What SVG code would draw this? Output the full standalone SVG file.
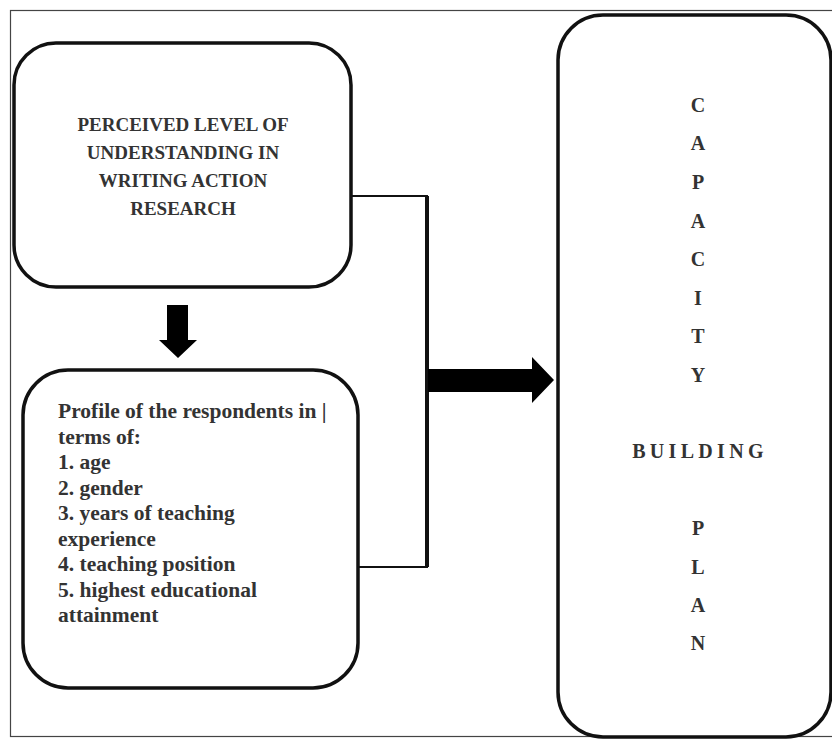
<svg xmlns="http://www.w3.org/2000/svg" width="832" height="739" viewBox="0 0 832 739">
<style>
.box{fill:#fff;stroke:#111;stroke-width:3.5}
.t{font-family:"Liberation Serif",serif;font-weight:bold;fill:#333}
.c{font-size:19px;text-anchor:middle}
.p{font-size:21.5px}
.v{font-size:20px;text-anchor:middle}
.ln{fill:none;stroke:#111}
</style>
<rect x="0" y="0" width="832" height="739" fill="#fff"/>
<rect x="10.5" y="10.5" width="830" height="726" fill="none" stroke="#444" stroke-width="1.2"/>
<g id="connectors">
<polyline class="ln" points="352,196 427,196 427,567 358,567" stroke-width="2"/>
<line class="ln" x1="427" y1="196" x2="427" y2="567" stroke-width="4"/>
<polygon points="167,305 188,305 188,340 197,340 178,358 159,340 167,340" fill="#000"/>
<polygon points="428,369 532,369 532,357 554,380 532,403 532,392 428,392" fill="#000"/>
</g>
<g id="node-perceived">
<rect class="box" x="14" y="43" width="337" height="244" rx="42"/>
<text class="t c" x="183"><tspan x="183" y="131">PERCEIVED LEVEL OF</tspan><tspan x="183" y="159">UNDERSTANDING IN</tspan><tspan x="183" y="187">WRITING ACTION</tspan><tspan x="183" y="215">RESEARCH</tspan></text>
</g>
<g id="node-profile">
<rect class="box" x="23" y="370" width="335" height="318" rx="45"/>
<text class="t p"><tspan x="58" y="418">Profile of the respondents in |</tspan><tspan x="58" y="443.5">terms of:</tspan><tspan x="58" y="469">1. age</tspan><tspan x="58" y="494.5">2. gender</tspan><tspan x="58" y="520">3. years of teaching</tspan><tspan x="58" y="545.5">experience</tspan><tspan x="58" y="571">4. teaching position</tspan><tspan x="58" y="596.5">5. highest educational</tspan><tspan x="58" y="622">attainment</tspan></text>
</g>
<g id="node-plan">
<rect class="box" x="558" y="15" width="273" height="722" rx="45"/>
<text class="t v"><tspan x="698" y="112">C</tspan><tspan x="698" y="150">A</tspan><tspan x="698" y="189">P</tspan><tspan x="698" y="228">A</tspan><tspan x="698" y="266">C</tspan><tspan x="698" y="305">I</tspan><tspan x="698" y="343">T</tspan><tspan x="698" y="382">Y</tspan></text>
<text class="t v" x="700" y="458" letter-spacing="4.3">BUILDING</text>
<text class="t v"><tspan x="698" y="535">P</tspan><tspan x="698" y="574">L</tspan><tspan x="698" y="612">A</tspan><tspan x="698" y="650">N</tspan></text>
</g>
</svg>
